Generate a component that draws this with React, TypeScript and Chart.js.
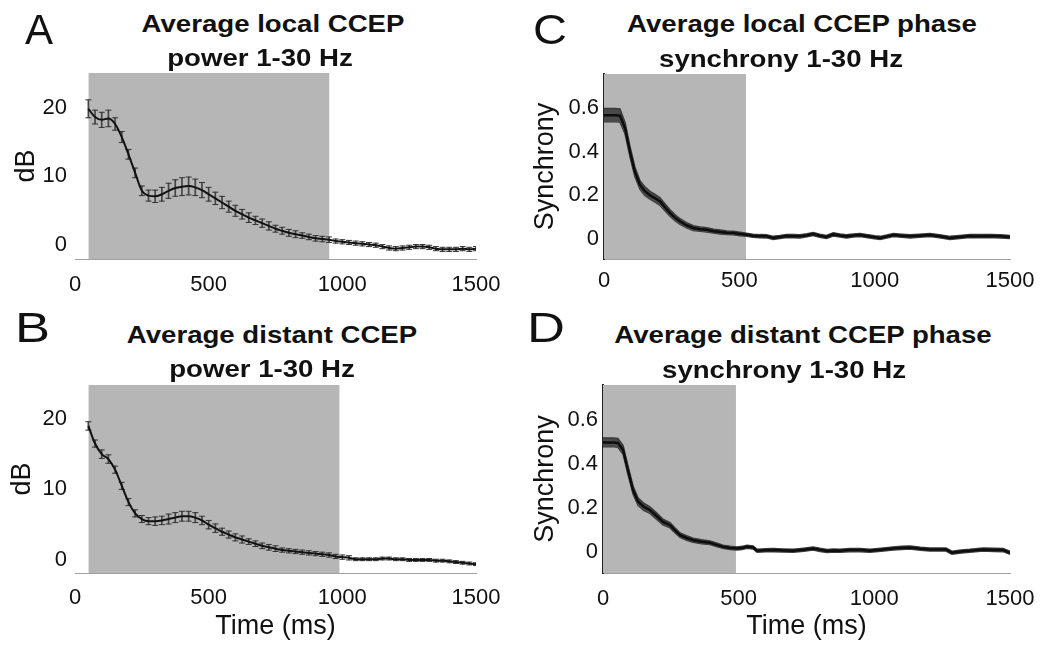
import React, { useEffect, useRef } from "react";
import { Chart, registerables } from "chart.js";

Chart.register(...registerables);

const FONT = "'Liberation Sans', Arial, Helvetica, sans-serif";

// ---------- DATA ----------
const xTicks = [0, 500, 1000, 1500];
const powerTicks = [0, 10, 20];
const syncTicks = [0, 0.2, 0.4, 0.6];

// Power panels (A, B): time points with error bars (ms)
const powerTimes = [
  50, 75, 100, 125, 150, 175, 200, 225, 250, 275,
  300, 325, 350, 375, 400, 425, 450, 475, 500, 525,
  550, 575, 600, 625, 650, 675, 700, 725, 750, 775,
  800, 825, 850, 875, 900, 925, 950, 975, 1000, 1025,
  1050, 1075, 1100, 1125, 1150, 1175, 1200, 1225, 1250, 1275,
  1300, 1325, 1350, 1375, 1400, 1425, 1450, 1475, 1500,
];

const localPower = [
  19.8, 18.6, 18.2, 18.4, 17.6, 15.7, 13.2, 10.5, 7.9, 7.2,
  7.1, 7.4, 7.9, 8.3, 8.5, 8.6, 8.4, 8.0, 7.4, 6.8,
  6.2, 5.6, 5.0, 4.5, 4.0, 3.6, 3.2, 2.8, 2.4, 2.1,
  1.8, 1.6, 1.4, 1.2, 1.0, 0.9, 0.8, 0.6, 0.5, 0.4,
  0.3, 0.2, 0.1, 0.0, -0.2, -0.4, -0.5, -0.4, -0.3, -0.2,
  -0.2, -0.3, -0.5, -0.6, -0.6, -0.6, -0.5, -0.6, -0.5,
];
const localPowerErr = [
  1.3, 1.0, 1.1, 1.2, 0.9, 0.8, 0.7, 0.7, 0.7, 0.8,
  0.9, 1.0, 1.1, 1.2, 1.3, 1.3, 1.2, 1.1, 1.0, 0.9,
  0.9, 0.8, 0.8, 0.7, 0.7, 0.6, 0.6, 0.6, 0.5, 0.5,
  0.5, 0.5, 0.4, 0.4, 0.4, 0.4, 0.4, 0.3, 0.3, 0.3,
  0.3, 0.3, 0.3, 0.3, 0.3, 0.3, 0.3, 0.3, 0.3, 0.3,
  0.3, 0.3, 0.3, 0.3, 0.3, 0.3, 0.3, 0.3, 0.3,
];

const distantPower = [
  19.0, 16.5, 15.0, 14.3, 12.8, 10.5, 8.2, 6.6, 5.8, 5.5,
  5.5, 5.6, 5.8, 6.0, 6.2, 6.2, 6.0, 5.6, 5.0, 4.5,
  4.0, 3.6, 3.2, 2.9, 2.6, 2.3, 2.0, 1.8, 1.6, 1.4,
  1.3, 1.2, 1.1, 1.0, 0.9, 0.8, 0.7, 0.5, 0.4, 0.3,
  0.1, 0.1, 0.1, 0.1, 0.2, 0.2, 0.1, 0.1, 0.0, 0.0,
  0.0, 0.0, -0.1, -0.1, -0.2, -0.3, -0.4, -0.5, -0.6,
];
const distantPowerErr = [
  0.6, 0.5, 0.6, 0.6, 0.5, 0.5, 0.5, 0.5, 0.5, 0.5,
  0.6, 0.6, 0.7, 0.7, 0.7, 0.7, 0.7, 0.6, 0.6, 0.6,
  0.5, 0.5, 0.5, 0.5, 0.4, 0.4, 0.4, 0.4, 0.4, 0.3,
  0.3, 0.3, 0.3, 0.3, 0.3, 0.3, 0.3, 0.3, 0.3, 0.3,
  0.2, 0.2, 0.2, 0.2, 0.2, 0.2, 0.2, 0.2, 0.2, 0.2,
  0.2, 0.2, 0.2, 0.2, 0.2, 0.2, 0.2, 0.2, 0.2,
];

// Synchrony panels (C, D)
const localSyncTimes = [
  0, 20, 40, 59, 78, 96, 114, 133, 150, 170,
  190, 207, 225, 244, 262, 281, 305, 330, 355, 379,
  405, 429, 455, 478, 503, 527, 550, 575, 601, 625,
  650, 675, 700, 724, 750, 773, 797, 822, 847, 872,
  896, 921, 946, 975, 1000, 1020, 1045, 1069, 1100, 1131,
  1165, 1204, 1240, 1278, 1315, 1352, 1390, 1426, 1465, 1500,
];
const localSync = [
  0.568, 0.568, 0.568, 0.566, 0.507, 0.4, 0.308, 0.247, 0.22, 0.2,
  0.185, 0.171, 0.145, 0.118, 0.097, 0.079, 0.062, 0.049, 0.044, 0.041,
  0.035, 0.031, 0.028, 0.026, 0.022, 0.018, 0.014, 0.012, 0.011, 0.004,
  0.008, 0.013, 0.012, 0.011, 0.016, 0.022, 0.014, 0.008, 0.02, 0.015,
  0.011, 0.015, 0.017, 0.012, 0.007, 0.004, 0.01, 0.017, 0.014, 0.011,
  0.014, 0.017, 0.012, 0.004, 0.008, 0.013, 0.012, 0.013, 0.011, 0.008,
];
const localSyncSpread = [
  0.03, 0.03, 0.03, 0.03, 0.026, 0.024, 0.022, 0.02, 0.02, 0.018,
  0.018, 0.017, 0.016, 0.015, 0.014, 0.013, 0.012, 0.011, 0.01, 0.01,
  0.009, 0.009, 0.008, 0.008, 0.008, 0.007, 0.007, 0.007, 0.007, 0.007,
  0.007, 0.007, 0.007, 0.007, 0.007, 0.007, 0.007, 0.007, 0.007, 0.007,
  0.007, 0.007, 0.007, 0.007, 0.007, 0.007, 0.007, 0.007, 0.007, 0.007,
  0.007, 0.007, 0.007, 0.007, 0.007, 0.007, 0.007, 0.007, 0.007, 0.007,
];

const distantSyncTimes = [
  0, 20, 40, 55, 74, 92, 111, 129, 150, 173,
  197, 221, 247, 265, 284, 308, 332, 363, 394, 418,
  442, 468, 494, 512, 531, 553, 568, 600, 627, 665,
  701, 740, 774, 800, 826, 850, 873, 910, 947, 984,
  1025, 1069, 1100, 1131, 1170, 1205, 1240, 1264, 1286, 1320,
  1352, 1401, 1440, 1475, 1500,
];
const distantSync = [
  0.497, 0.497, 0.497, 0.495, 0.463, 0.371, 0.28, 0.229, 0.205, 0.19,
  0.163, 0.136, 0.121, 0.098, 0.076, 0.063, 0.053, 0.046, 0.041, 0.032,
  0.023, 0.018, 0.015, 0.018, 0.023, 0.02, 0.005, 0.007, 0.008, 0.006,
  0.005, 0.01, 0.015, 0.009, 0.004, 0.006, 0.005, 0.008, 0.008, 0.005,
  0.01, 0.015, 0.018, 0.02, 0.014, 0.011, 0.011, 0.011, -0.004, 0.002,
  0.005, 0.011, 0.009, 0.008, -0.004,
];
const distantSyncSpread = [
  0.02, 0.02, 0.02, 0.02, 0.02, 0.019, 0.018, 0.017, 0.016, 0.015,
  0.014, 0.013, 0.012, 0.011, 0.01, 0.01, 0.009, 0.009, 0.008, 0.008,
  0.007, 0.007, 0.007, 0.007, 0.007, 0.007, 0.007, 0.007, 0.007, 0.007,
  0.007, 0.007, 0.007, 0.007, 0.007, 0.007, 0.007, 0.007, 0.007, 0.007,
  0.007, 0.007, 0.007, 0.007, 0.007, 0.007, 0.007, 0.007, 0.007, 0.007,
  0.007, 0.007, 0.007, 0.007, 0.007,
];

// Stimulation-window shading (ms)
const shadeLocalPower = [50, 952];
const shadeDistantPower = [50, 990];
const shadeLocalSync = [0, 525];
const shadeDistantSync = [0, 490];

// ---------- CHART CONFIG ----------
type PanelCfg = {
  left: number; top: number; width: number; height: number;
  padTop: number; padRight: number; padBottom: number;
  yWidth: number; xHeight: number; xTickPad: number;
  yMin: number; yMax: number; yTicks: number[];
  yTitle: string; yTitlePad: number; yTickPad: number; yBorder: boolean;
  xTitle: boolean;
  shade: number[];
  kind: "power" | "sync";
  times: number[]; values: number[]; spread: number[];
};

const SHADE = "#b6b6b6";

function buildConfig(p: PanelCfg): any {
  const pts = (arr: number[]) => p.times.map((t, i) => ({ x: t, y: arr[i] }));
  const shadeDs = {
    type: "line",
    data: [
      { x: p.shade[0], y: p.yMax },
      { x: p.shade[1], y: p.yMax },
    ],
    borderWidth: 0,
    borderColor: "rgba(0,0,0,0)",
    backgroundColor: SHADE,
    pointRadius: 0,
    fill: "start",
    order: 10,
  };
  let datasets: any[];
  if (p.kind === "power") {
    datasets = [
      {
        type: "line",
        data: pts(p.values),
        borderColor: "#111",
        borderWidth: 2,
        pointRadius: 0,
        cubicInterpolationMode: "monotone",
        fill: false,
        order: 1,
      },
      {
        type: "line",
        data: pts(p.values.map((v, i) => v + p.spread[i])),
        showLine: false,
        pointStyle: "line",
        pointRadius: 3,
        pointBorderWidth: 1,
        pointBorderColor: "#333",
        fill: false,
        order: 2,
      },
      {
        type: "line",
        data: pts(p.values.map((v, i) => v - p.spread[i])),
        showLine: false,
        pointStyle: "line",
        pointRadius: 3,
        pointBorderWidth: 1,
        pointBorderColor: "#333",
        fill: false,
        order: 2,
      },
      {
        type: "bar",
        data: p.times.map((t, i) => ({ x: t, y: [p.values[i] - p.spread[i], p.values[i] + p.spread[i]] })),
        backgroundColor: "#444",
        borderWidth: 0,
        barThickness: 1,
        grouped: false,
        order: 3,
      },
      shadeDs,
    ];
  } else {
    datasets = [
      {
        type: "line",
        data: pts(p.values),
        borderColor: "#0d0d0d",
        borderWidth: 2.5,
        pointRadius: 0,
        tension: 0,
        fill: false,
        order: 1,
      },
      {
        type: "line",
        data: pts(p.values.map((v, i) => v + p.spread[i])),
        borderColor: "#3a3a3a",
        borderWidth: 1.5,
        backgroundColor: "#4a4a4a",
        pointRadius: 0,
        fill: 2,
        order: 3,
      },
      {
        type: "line",
        data: pts(p.values.map((v, i) => v - p.spread[i])),
        borderColor: "#3a3a3a",
        borderWidth: 1.5,
        pointRadius: 0,
        fill: false,
        order: 3,
      },
      shadeDs,
    ];
  }

  return {
    type: "line",
    data: { datasets },
    options: {
      animation: false,
      responsive: false,
      maintainAspectRatio: false,
      devicePixelRatio: 1,
      layout: { padding: { top: p.padTop, right: p.padRight, bottom: p.padBottom, left: 0 } },
      plugins: { legend: { display: false }, tooltip: { enabled: false }, title: { display: false } },
      scales: {
        x: {
          type: "linear",
          min: 0,
          max: 1500,
          offset: false,
          afterBuildTicks: (s: any) => {
            s.ticks = xTicks.map((v) => ({ value: v }));
          },
          afterFit: (s: any) => {
            s.height = p.xHeight;
            s.paddingLeft = 0;
            s.paddingRight = 0;
          },
          grid: { display: false, drawTicks: false },
          border: { display: true, color: "#a0a0a0", width: 1, dash: [2, 2] },
          ticks: {
            font: { family: FONT, size: 22 },
            color: "#111",
            padding: p.xTickPad,
            maxRotation: 0,
            autoSkip: false,
            callback: (v: any) => String(v),
          },
          title: p.xTitle
            ? {
                display: true,
                text: "Time (ms)",
                font: { family: FONT, size: 27 },
                color: "#111",
                padding: { top: 0, bottom: 2 },
              }
            : { display: false },
        },
        y: {
          type: "linear",
          min: p.yMin,
          max: p.yMax,
          afterBuildTicks: (s: any) => {
            s.ticks = p.yTicks.map((v) => ({ value: v }));
          },
          afterFit: (s: any) => {
            s.width = p.yWidth;
            s.paddingTop = 0;
            s.paddingBottom = 0;
          },
          grid: { display: false, drawTicks: false },
          border: { display: p.yBorder, color: "#222", width: 2 },
          ticks: {
            font: { family: FONT, size: 22 },
            color: "#111",
            padding: p.yTickPad,
            autoSkip: false,
            callback: (v: any) => String(v),
          },
          title: {
            display: true,
            text: p.yTitle,
            font: { family: FONT, size: 27 },
            color: "#111",
            padding: { top: p.yTitlePad, bottom: 0 },
          },
        },
      },
    },
  };
}

const panels: PanelCfg[] = [
  {
    left: 0, top: 60, width: 520, height: 260,
    padTop: 13, padRight: 44, padBottom: 0, yWidth: 75, xHeight: 61, xTickPad: 13,
    yMin: -2, yMax: 25, yTicks: powerTicks, yTitle: "dB", yTitlePad: 10, yTickPad: 8, yBorder: false,
    xTitle: false, shade: shadeLocalPower, kind: "power",
    times: powerTimes, values: localPower, spread: localPowerErr,
  },
  {
    left: 0, top: 372, width: 520, height: 273,
    padTop: 13, padRight: 44, padBottom: 0, yWidth: 75, xHeight: 72, xTickPad: 12,
    yMin: -1.85, yMax: 24.8, yTicks: powerTicks, yTitle: "dB", yTitlePad: 6, yTickPad: 8, yBorder: false,
    xTitle: true, shade: shadeDistantPower, kind: "power",
    times: powerTimes, values: distantPower, spread: distantPowerErr,
  },
  {
    left: 520, top: 60, width: 522, height: 260,
    padTop: 14, padRight: 32, padBottom: 0, yWidth: 84, xHeight: 61, xTickPad: 9,
    yMin: -0.093, yMax: 0.757, yTicks: syncTicks, yTitle: "Synchrony", yTitlePad: 9, yTickPad: 5, yBorder: true,
    xTitle: false, shade: shadeLocalSync, kind: "sync",
    times: localSyncTimes, values: localSync, spread: localSyncSpread,
  },
  {
    left: 520, top: 372, width: 522, height: 273,
    padTop: 13, padRight: 32, padBottom: 0, yWidth: 83, xHeight: 72, xTickPad: 13,
    yMin: -0.096, yMax: 0.758, yTicks: syncTicks, yTitle: "Synchrony", yTitlePad: 9, yTickPad: 5, yBorder: true,
    xTitle: true, shade: shadeDistantSync, kind: "sync",
    times: distantSyncTimes, values: distantSync, spread: distantSyncSpread,
  },
];

const titleLines = [
  { text: "Average local CCEP", cx: 273, base: 32 },
  { text: "power 1-30 Hz", cx: 260, base: 66 },
  { text: "Average local CCEP phase", cx: 802, base: 32 },
  { text: "synchrony 1-30 Hz", cx: 781, base: 67 },
  { text: "Average distant CCEP", cx: 272, base: 343 },
  { text: "power 1-30 Hz", cx: 262, base: 377 },
  { text: "Average distant CCEP phase", cx: 803, base: 343 },
  { text: "synchrony 1-30 Hz", cx: 784, base: 378 },
];

const letters = [
  { text: "A", x: 25, base: 45, sx: 1.0 },
  { text: "B", x: 15, base: 343, sx: 1.25 },
  { text: "C", x: 533, base: 45, sx: 1.12 },
  { text: "D", x: 527, base: 343, sx: 1.25 },
];

function ChartPanel({ cfg }: { cfg: PanelCfg }) {
  const ref = useRef<HTMLCanvasElement | null>(null);
  useEffect(() => {
    const chart = new Chart(ref.current as HTMLCanvasElement, buildConfig(cfg));
    return () => chart.destroy();
  }, []);
  return (
    <canvas
      ref={ref}
      width={cfg.width}
      height={cfg.height}
      style={{ position: "absolute", left: cfg.left, top: cfg.top, width: cfg.width, height: cfg.height }}
    />
  );
}

export default function App() {
  return (
    <div
      style={{
        position: "absolute",
        left: 0,
        top: 0,
        width: 1042,
        height: 645,
        background: "#fff",
        overflow: "hidden",
        fontFamily: FONT,
        color: "#111",
      }}
    >
      {panels.map((p, i) => (
        <ChartPanel key={i} cfg={p} />
      ))}
      {titleLines.map((t, i) => (
        <div
          key={"t" + i}
          style={{
            position: "absolute",
            left: t.cx - 250,
            width: 500,
            top: t.base - 20.3,
            fontSize: 24,
            lineHeight: "24px",
            fontWeight: "bold",
            textAlign: "center",
            whiteSpace: "nowrap",
            transform: "scaleX(1.15)",
            transformOrigin: "center",
          }}
        >
          {t.text}
        </div>
      ))}
      {letters.map((l, i) => (
        <div
          key={"l" + i}
          style={{
            position: "absolute",
            left: l.x,
            top: l.base - 35.6,
            fontSize: 42,
            lineHeight: "42px",
            whiteSpace: "nowrap",
            transform: `scaleX(${l.sx})`,
            transformOrigin: "left",
          }}
        >
          {l.text}
        </div>
      ))}
    </div>
  );
}
